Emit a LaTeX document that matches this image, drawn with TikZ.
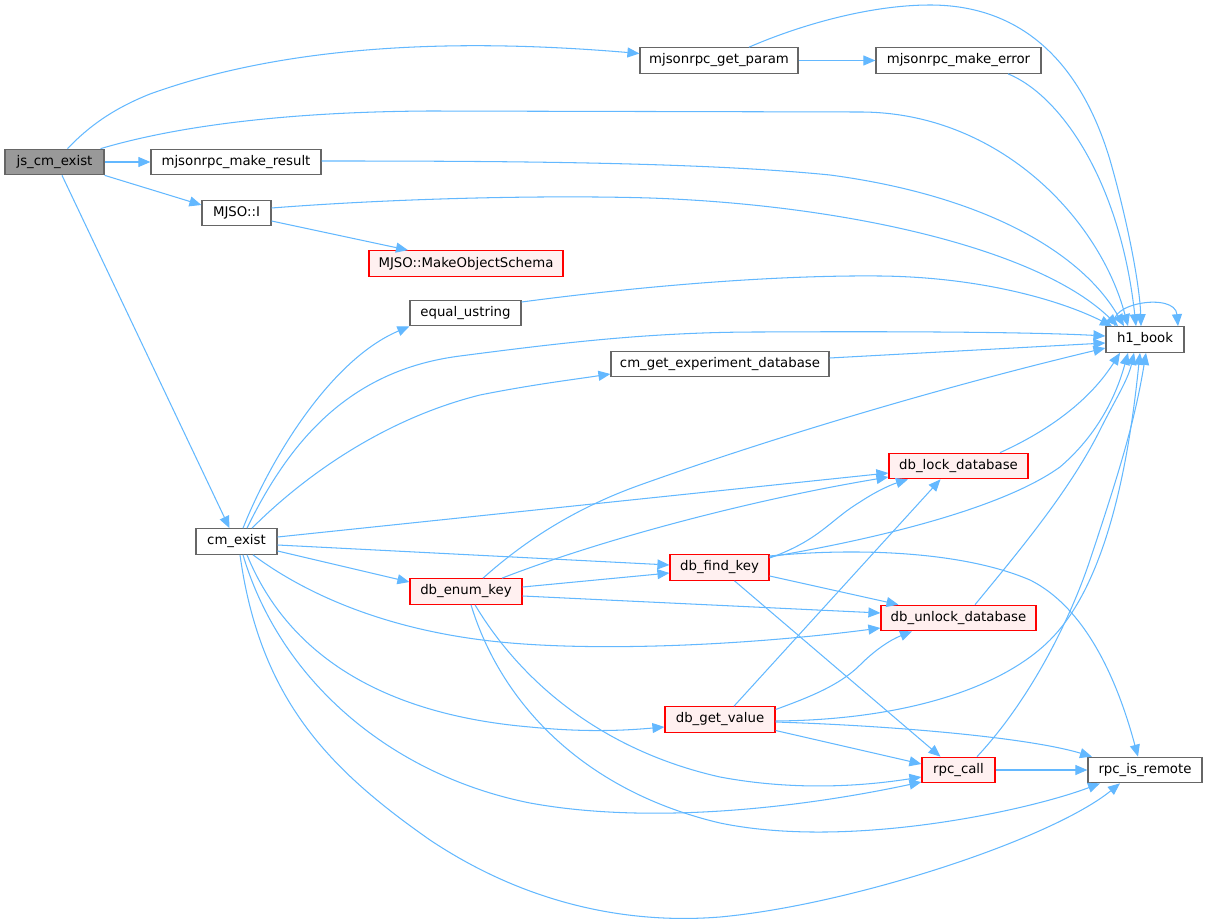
\documentclass[tikz,border=0pt]{standalone}
\usepackage{fontspec}
\setmainfont{DejaVu Sans}
\usetikzlibrary{arrows.meta}
\definecolor{edgec}{HTML}{63B8FF}
\definecolor{bord}{HTML}{666666}
\definecolor{redb}{HTML}{FF0000}
\definecolor{redf}{HTML}{FFF0F0}
\definecolor{grayf}{HTML}{999999}
\begin{document}
\begin{tikzpicture}[x=1pt,y=-1pt,
 nbox/.style={draw=bord, fill=white, line width=1.2pt, minimum height=25.5pt, inner sep=0pt, font=\fontsize{13.3}{15}\selectfont, text=black},
 rbox/.style={nbox, draw=redb, fill=redf},
 cbox/.style={nbox, fill=grayf},
 conn/.style={draw=edgec, line width=1.05pt, -{Triangle[length=12pt,width=10pt]}},
]
\path[use as bounding box] (0,0) rectangle (1208,923);

\node[cbox, minimum width=99pt] (js) at (54.5,162) {js\_cm\_exist};
\node[nbox, minimum width=158pt] (getparam) at (719,60.5) {mjsonrpc\_get\_param};
\node[nbox, minimum width=165pt] (makeerror) at (958.5,60.5) {mjsonrpc\_make\_error};
\node[nbox, minimum width=170pt] (makeresult) at (236,162) {mjsonrpc\_make\_result};
\node[nbox, minimum width=69pt] (mjsoI) at (236.5,213) {MJSO::I};
\node[nbox, minimum width=78pt] (h1) at (1145,339.5) {h1\_book};
\node[rbox, minimum width=194pt] (schema) at (466,263.5) {MJSO::MakeObjectSchema};
\node[nbox, minimum width=111pt] (equal) at (465.5,313) {equal\_ustring};
\node[nbox, minimum width=218pt] (cmgetdb) at (720,364) {cm\_get\_experiment\_database};
\node[rbox, minimum width=139pt] (dblock) at (958.5,466) {db\_lock\_database};
\node[nbox, minimum width=81pt] (cmexist) at (236.5,541.5) {cm\_exist};
\node[rbox, minimum width=99pt] (findkey) at (719.5,567.5) {db\_find\_key};
\node[rbox, minimum width=112pt] (enumkey) at (466,591.5) {db\_enum\_key};
\node[rbox, minimum width=155pt] (unlock) at (958.5,618) {db\_unlock\_database};
\node[rbox, minimum width=110pt] (getvalue) at (720,719.5) {db\_get\_value};
\node[rbox, minimum width=73pt] (rpccall) at (958.5,770) {rpc\_call};
\node[nbox, minimum width=114pt] (remote) at (1145,770) {rpc\_is\_remote};

% js_cm_exist
\draw[conn] ([xshift=13pt]js.north) .. controls (90,125) and (115,108) .. (150,94) .. controls (300,40) and (480,40) .. ([yshift=7pt]getparam.west);
\draw[conn] ([xshift=-4pt]js.north east) .. controls (150,134) and (250,112) .. (430,111) -- (860,112) .. controls (1000,112) and (1100,220) .. ([xshift=-17pt]h1.north);
\draw[conn] (js.east) -- (makeresult.west);
\draw[conn] (js.south east) -- ([yshift=8pt]mjsoI.west);
\draw[conn] ([xshift=7.5pt]js.south) -- ([xshift=-7pt]cmexist.north);

% mjsonrpc
\draw[conn] (getparam.east) -- (makeerror.west);
\draw[conn] ([xshift=30pt]getparam.north) .. controls (800,25) and (870,5) .. (930,5) .. controls (1020,5) and (1080,60) .. (1110,160) .. controls (1130,230) and (1140,290) .. ([xshift=-4pt]h1.north);
\draw[conn] ([xshift=49.5pt]makeerror.south) .. controls (1060,95) and (1120,180) .. ([xshift=-9pt]h1.north);
\draw[conn] ([yshift=1pt]makeresult.east) .. controls (500,161) and (700,162) .. (830,175) .. controls (980,195) and (1080,250) .. ([xshift=-21pt]h1.north);
\draw[conn] ([yshift=5pt]mjsoI.east) .. controls (400,198) and (550,195) .. (650,198) .. controls (850,205) and (1040,250) .. ([xshift=-27pt]h1.north);
\draw[conn] ([yshift=-8pt]mjsoI.east) -- ([xshift=-58pt]schema.north);
\draw[conn] ([xshift=-30pt]h1.north) .. controls (1105,303) and (1175,292) .. ([xshift=33pt]h1.north);
\draw[conn] ([yshift=11pt]equal.east) .. controls (650,285) and (780,275) .. (880,276) .. controls (980,277) and (1060,300) .. ([xshift=-33pt]h1.north);
\draw[conn] ([yshift=6pt]cmgetdb.east) -- ([yshift=-3.5pt]h1.west);

% cm_exist
\draw[conn] ([xshift=6.5pt]cmexist.north) .. controls (270,460) and (330,360) .. (equal.south west);
\draw[conn] ([xshift=10.5pt]cmexist.north) .. controls (290,440) and (350,370) .. (460,356) .. controls (560,343) and (650,332) .. (760,332) .. controls (950,331) and (1050,333) .. ([yshift=3.5pt]h1.west);
\draw[conn] ([xshift=15.5pt]cmexist.north) .. controls (300,480) and (380,420) .. (480,395) .. controls (530,385) and (570,380) .. ([yshift=-10pt]cmgetdb.west);
\draw[conn] ([yshift=4.5pt]cmexist.east) -- ([yshift=-7pt]dblock.west);
\draw[conn] ([yshift=-3.5pt]cmexist.east) -- ([yshift=2.5pt]findkey.west);
\draw[conn] ([yshift=-9.5pt]cmexist.east) -- ([yshift=9.5pt]enumkey.west);
\draw[conn] ([xshift=16.5pt]cmexist.south) .. controls (300,590) and (380,630) .. (500,642) .. controls (600,652) and (750,645) .. ([yshift=-10pt]unlock.west);
\draw[conn] ([xshift=10.5pt]cmexist.south) .. controls (290,660) and (390,715) .. (530,727) .. controls (590,733) and (630,730) .. ([yshift=-7.5pt]getvalue.west);
\draw[conn] ([xshift=6.5pt]cmexist.south) .. controls (280,680) and (390,775) .. (530,803) .. controls (650,825) and (800,808) .. ([yshift=-12pt]rpccall.west);
\draw[conn] ([xshift=3.5pt]cmexist.south) .. controls (260,700) and (330,770) .. (430,840) .. controls (520,900) and (620,925) .. (720,917) .. controls (850,905) and (1050,840) .. ([xshift=-25pt]remote.south);

% db_enum_key
\draw[conn] ([xshift=17pt]enumkey.north) .. controls (520,545) and (570,510) .. (640,485) .. controls (780,435) and (950,385) .. ([yshift=-8.5pt]h1.west);
\draw[conn] ([xshift=36pt]enumkey.north) .. controls (600,540) and (750,500) .. ([yshift=-11pt]dblock.west);
\draw[conn] ([yshift=4.5pt]enumkey.east) -- ([yshift=-5.5pt]findkey.west);
\draw[conn] ([yshift=-4.5pt]enumkey.east) -- ([yshift=5pt]unlock.west);
\draw[conn] ([xshift=9pt]enumkey.south) .. controls (520,680) and (600,750) .. (720,777) .. controls (800,792) and (870,785) .. ([yshift=-7pt]rpccall.west);
\draw[conn] ([xshift=5pt]enumkey.south) .. controls (500,700) and (580,790) .. (720,823) .. controls (850,850) and (1030,810) .. ([xshift=-45pt]remote.south);

% db_find_key
\draw[conn] ([yshift=9.5pt]findkey.east) .. controls (820,540) and (830,520) .. (860,502) .. controls (875,492) and (890,485) .. ([xshift=-50.5pt]dblock.south);
\draw[conn] ([yshift=10.5pt]findkey.east) .. controls (870,540) and (1000,510) .. (1060,467) .. controls (1095,437) and (1115,400) .. ([xshift=-17pt]h1.south);
\draw[conn] ([yshift=-8.5pt]findkey.east) -- ([xshift=-60pt]unlock.north);
\draw[conn] ([xshift=15pt]findkey.south) -- ([xshift=-18pt]rpccall.north);
\draw[conn] ([yshift=11.5pt]findkey.east) .. controls (850,548) and (960,550) .. (1030,580) .. controls (1090,610) and (1120,690) .. ([xshift=-7pt]remote.north);

% lock / unlock
\draw[conn] ([xshift=41.5pt]dblock.north) .. controls (1050,430) and (1090,400) .. ([xshift=-25pt]h1.south);
\draw[conn] ([xshift=16.5pt]unlock.north) .. controls (1020,550) and (1070,490) .. (1100,430) .. controls (1115,400) and (1128,380) .. ([xshift=-11pt]h1.south);

% db_get_value
\draw[conn] ([xshift=14pt]getvalue.north) -- ([xshift=-18pt]dblock.south);
\draw[conn] ([yshift=10pt]getvalue.east) .. controls (810,697) and (840,685) .. (860,665) .. controls (875,650) and (890,640) .. ([xshift=-46.5pt]unlock.south);
\draw[conn] ([yshift=-1.5pt]getvalue.east) .. controls (900,720) and (1000,690) .. (1050,640) .. controls (1110,580) and (1130,450) .. ([xshift=-5pt]h1.south);
\draw[conn] ([yshift=-11pt]getvalue.east) -- ([yshift=6pt]rpccall.west);
\draw[conn] ([yshift=-2.5pt]getvalue.east) .. controls (900,726) and (1030,738) .. ([xshift=-53pt]remote.north);

% rpc_call
\draw[conn] (rpccall.east) -- (remote.west);
\draw[conn] ([xshift=18.5pt]rpccall.north) .. controls (1030,700) and (1070,620) .. (1090,560) .. controls (1120,470) and (1135,420) .. ([xshift=1pt]h1.south);
\end{tikzpicture}
\end{document}
